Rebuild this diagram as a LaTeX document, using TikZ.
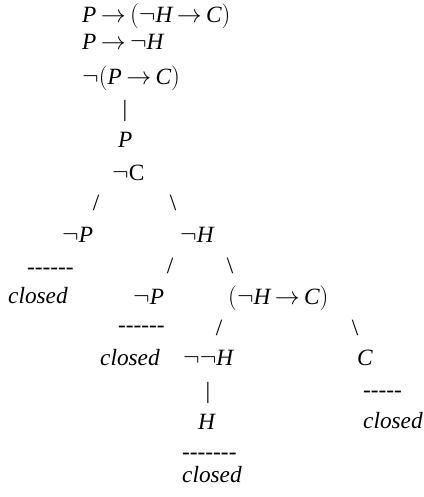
\documentclass[tikz,border=0pt]{standalone}
\usepackage{fontspec}
\setmainfont{Liberation Serif}
\newcommand\vi[1]{\textit{#1}}
\newcommand\ar{\mathrel{\mkern-1.8mu\rightarrow\mkern-1.8mu}}
\begin{document}
\begin{tikzpicture}[x=1pt,y=-1pt,
  t/.style={inner sep=0pt, anchor=base west, font=\fontsize{23.3}{28}\selectfont},
  g/.style={t, anchor=base}]
\useasboundingbox (0,0) rectangle (423,497);
% premises
\node[t] (l1) at (82,23) {$\vi{P}\ar(\neg\vi{H}\ar\vi{C})$};
\node[t] (l2) at (82,50) {$\vi{P}\ar\neg\vi{H}$};
\node[t] (l3) at (82,85) {$\neg(\vi{P}\ar\vi{C})$};
\node[g] (b1) at (125,117) {|};
\node[t] (p1) at (118,147) {$\vi{P}$};
\node[t] (nc) at (112,180) {$\neg$C};
\node[g] (s1) at (96,210) {/};
\node[g] (s2) at (173,210) {\textbackslash};
% second level
\node[t] (np1) at (62,242) {$\neg\vi{P}$};
\node[t] (nh) at (180,242) {$\neg\vi{H}$};
\node[t] (d1) at (27,274) {-\kern0pt-\kern0pt-\kern0pt-\kern0pt-\kern0pt-};
\node[t] (c1) at (8,303) {\itshape closed};
\node[g] (s3) at (170,273) {/};
\node[g] (s4) at (230,273) {\textbackslash};
% third level
\node[t] (np2) at (133,304) {$\neg\vi{P}$};
\node[t] (hc) at (228,304) {$(\neg\vi{H}\ar\vi{C})$};
\node[t] (d2) at (118,332) {-\kern0pt-\kern0pt-\kern0pt-\kern0pt-\kern0pt-};
\node[g] (s5) at (219,335) {/};
\node[g] (s6) at (355,335) {\textbackslash};
% fourth level
\node[t] (c2) at (100,365) {\itshape closed};
\node[t] (nnh) at (183,365) {$\neg\neg\vi{H}$};
\node[t] (cc) at (357,365) {$\vi{C}$};
\node[g] (b2) at (208,398) {|};
\node[t] (d3) at (363,397) {-\kern0pt-\kern0pt-\kern0pt-\kern0pt-};
\node[t] (hh) at (198,429) {$\vi{H}$};
\node[t] (c3) at (363,428) {\itshape closed};
\node[t] (d4) at (182,459) {-\kern0pt-\kern0pt-\kern0pt-\kern0pt-\kern0pt-\kern0pt-};
\node[t] (c4) at (182,482) {\itshape closed};
\end{tikzpicture}
\end{document}
